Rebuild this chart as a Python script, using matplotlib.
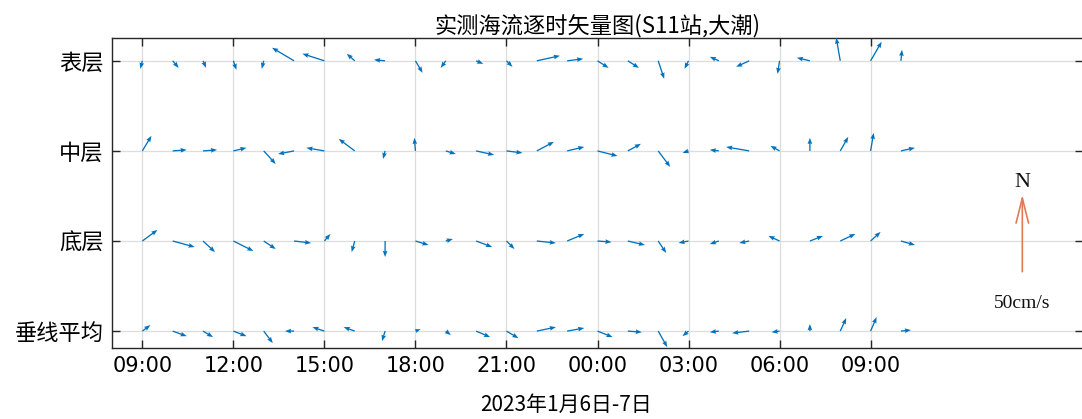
import matplotlib

matplotlib.use("Agg")
import matplotlib.dates as mdates
import matplotlib.pyplot as plt
import numpy as np
import pandas as pd
from matplotlib.transforms import offset_copy

plt.rcParams["font.family"] = ["Noto Sans CJK SC", "DejaVu Sans"]

# hourly observations, 2023-01-06 09:00 .. 2023-01-07 10:00
times = pd.date_range("2023-01-06 09:00", periods=26, freq="h")
layers = ["表层", "中层", "底层", "垂线平均"]

# east (u) / north (v) components, cm/s
u_surf = [-1.3, 3.9, 2.0, 2.0, -1.3, -14.3, -14.3, -5.2, -7.2, 4.6, -3.3, 4.6, 3.9,
          15.0, 10.4, 7.2, 7.2, 3.9, -2.6, -5.9, -8.5, -1.3, -8.5, -2.6, 7.2, 0.7]
v_surf = [-5.2, -4.6, -4.6, -5.9, -5.2, 8.5, 4.6, 4.6, 0.7, -7.8, -4.6, -2.0, -3.9,
          3.3, 1.3, -4.6, -4.6, -11.7, -5.2, 2.6, -3.9, -8.5, 2.0, 15.0, 12.4, 7.2]
u_mid = [5.9, 9.1, 9.1, 8.5, 7.8, -10.4, -11.7, -10.4, -1.3, -0.7, 6.5, 11.7, 10.4,
         11.1, 11.1, 13.0, 8.5, 7.8, -3.9, -5.9, -15.0, -5.9, 0.0, 5.2, 2.0, 9.1]
v_mid = [9.8, 0.7, 0.7, 2.0, -8.5, -2.0, 2.0, 7.8, -5.2, 8.5, -2.0, -2.6, -1.3,
         5.9, 2.6, -3.3, 4.6, -10.4, -1.3, 0.7, 2.6, 3.3, 8.5, 9.1, 11.7, 2.0]
u_bot = [9.8, 14.3, 7.8, 13.0, 7.8, 11.1, 3.9, -2.0, 0.0, 8.5, 4.6, 10.4, 5.2,
         12.4, 11.1, 9.1, 11.1, 5.2, -6.5, -5.9, -6.5, -7.2, 8.5, 9.8, 6.5, 9.1]
v_bot = [7.2, -3.9, -7.2, -6.5, -5.2, -1.3, 4.6, -7.2, -10.4, -2.6, 1.3, -3.9, -5.2,
         -1.3, 4.6, -0.7, -2.6, -7.8, -1.3, -2.0, -1.3, 3.3, 3.3, 4.6, 5.9, -2.6]
u_avg = [5.2, 9.1, 6.5, 8.5, 5.9, -5.9, -7.8, -7.2, -2.0, 3.3, 3.3, 9.1, 7.8,
         12.4, 11.1, 9.8, 9.1, 5.9, -3.9, -5.9, -11.1, -5.2, 0.0, 3.9, 3.9, 6.5]
v_avg = [3.9, -3.3, -3.9, -3.3, -7.8, 0.0, 2.6, 2.6, -6.5, 1.3, -2.6, -3.9, -4.6,
         2.6, 2.0, -3.9, -0.7, -10.4, -3.3, -0.7, -1.3, -0.7, 4.6, 8.5, 9.1, 0.7]

ref_speed = 50  # cm/s, scale arrow

BLUE = "#0072BD"
ORANGE = "#E07B54"
DPI = 100
SCALE = 50 / 77.0  # cm/s per pixel

fig = plt.figure(figsize=(10.82, 4.19), dpi=DPI)
ax = fig.add_axes([112 / 1082, 0.170, 971 / 1082, 0.7386])

x = mdates.date2num(times)
rows = [(u_surf, v_surf), (u_mid, v_mid), (u_bot, v_bot), (u_avg, v_avg)]
for i, (u, v) in enumerate(rows):
    yy = np.full(len(x), len(layers) - i, dtype=float)
    ax.quiver(x, yy, u, v, angles="uv", scale_units="dots", scale=SCALE,
              units="dots", width=1.3, headwidth=3.6, headlength=4.8,
              headaxislength=4.3, color=BLUE, zorder=3)

ax.set_xlim(mdates.date2num(pd.Timestamp("2023-01-06 08:00")),
            mdates.date2num(pd.Timestamp("2023-01-07 16:00")))
ax.set_ylim(0.815, 4.25)

xt = pd.date_range("2023-01-06 09:00", "2023-01-07 09:00", freq="3h")
ax.set_xticks(mdates.date2num(xt))
ax.set_xticklabels([t.strftime("%H:%M") for t in xt], family="DejaVu Sans", fontsize=15)
ax.set_yticks([4, 3, 2, 1])
ax.set_yticklabels(layers, fontsize=16)

ax.tick_params(direction="in", length=6, width=1, top=True, right=True, color="#262626")
ax.tick_params(axis="x", pad=6)
ax.tick_params(axis="y", pad=6)
ax.grid(True, color="#DDDDDD", linewidth=0.9)
ax.set_axisbelow(True)
for s in ax.spines.values():
    s.set_color("#262626")
    s.set_linewidth(1.0)

ax.set_title("实测海流逐时矢量图(S11站,大潮)", fontsize=16, pad=4)
ax.set_xlabel("2023年1月6日-7日", fontsize=15)
ax.xaxis.set_label_coords(0.4676, -0.15)

# north reference arrow
ref_x = mdates.date2num(pd.Timestamp("2023-01-07 14:00"))
ref_y = 1.66
ref_len_pt = ref_speed / SCALE * 72 / DPI
head_tr = offset_copy(ax.transData, fig=fig, x=0, y=ref_len_pt, units="points")
ax.annotate("", xy=(ref_x, ref_y), xycoords=head_tr, xytext=(ref_x, ref_y),
            textcoords="data",
            arrowprops=dict(arrowstyle="->,head_length=1.8,head_width=0.45",
                            color=ORANGE, lw=1.2, shrinkA=0, shrinkB=0))
ax.text(ref_x, 2.645, "N", ha="center", va="center", fontsize=16,
        family="Liberation Serif", color="#111111")
ax.text(ref_x, 1.31, "50cm/s", ha="center", va="center", fontsize=14,
        family="Liberation Serif", color="#111111")

fig.savefig("out.png", dpi=DPI)
